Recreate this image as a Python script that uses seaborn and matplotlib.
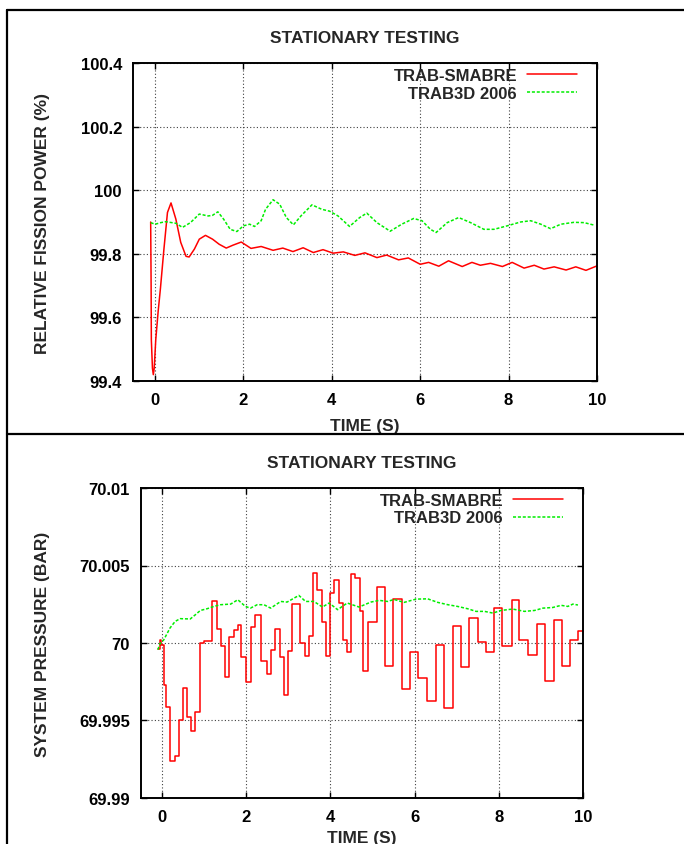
import matplotlib
matplotlib.use("Agg")
import matplotlib.pyplot as plt
from matplotlib.lines import Line2D
import seaborn as sns
import pandas as pd

# ---------------- data ----------------
title = "STATIONARY TESTING"
series_names = ["TRAB-SMABRE", "TRAB3D 2006"]
xlabel = "TIME (S)"
ylabel_top = "RELATIVE FISSION POWER (%)"
ylabel_bot = "SYSTEM PRESSURE (BAR)"

x_ticks = [0, 2, 4, 6, 8, 10]
x_ticklabels = ["0", "2", "4", "6", "8", "10"]
top_yticks = [99.4, 99.6, 99.8, 100.0, 100.2, 100.4]
top_yticklabels = ["99.4", "99.6", "99.8", "100", "100.2", "100.4"]
bot_yticks = [69.99, 69.995, 70.0, 70.005, 70.01]
bot_yticklabels = ["69.99", "69.995", "70", "70.005", "70.01"]

# top panel: relative fission power
power_smabre_t = [-0.10, -0.09, -0.085, -0.06, -0.04, -0.02, 0.015, 0.07, 0.12, 0.20,
                  0.28, 0.36, 0.47, 0.58, 0.70, 0.77, 0.89, 1.00, 1.14, 1.30,
                  1.45, 1.61, 1.76, 1.95, 2.17, 2.40, 2.67, 2.89, 3.12, 3.35,
                  3.58, 3.80, 4.03, 4.26, 4.52, 4.75, 5.02, 5.24, 5.51, 5.73,
                  6.00, 6.19, 6.42, 6.64, 6.95, 7.17, 7.36, 7.59, 7.86, 8.08,
                  8.35, 8.58, 8.80, 9.03, 9.30, 9.52, 9.75, 10.0]
power_smabre = [99.90, 99.70, 99.53, 99.44, 99.42, 99.44, 99.53, 99.62, 99.69, 99.815,
                99.93, 99.96, 99.909, 99.836, 99.792, 99.790, 99.815, 99.846, 99.858, 99.846,
                99.830, 99.818, 99.827, 99.837, 99.817, 99.823, 99.811, 99.818, 99.807, 99.819,
                99.804, 99.813, 99.802, 99.806, 99.795, 99.803, 99.788, 99.796, 99.781, 99.787,
                99.767, 99.773, 99.761, 99.778, 99.760, 99.773, 99.764, 99.770, 99.760, 99.773,
                99.755, 99.764, 99.752, 99.759, 99.749, 99.759, 99.748, 99.762]

power_trab3d_t = [-0.10, 0.0, 0.13, 0.24, 0.47, 0.62, 0.80, 1.0, 1.2, 1.3,
                  1.42, 1.55, 1.7, 1.85, 2.0, 2.14, 2.25, 2.4, 2.5, 2.67,
                  2.82, 2.97, 3.13, 3.3, 3.55, 3.77, 3.95, 4.14, 4.4, 4.63,
                  4.79, 5.02, 5.32, 5.58, 5.85, 6.04, 6.23, 6.36, 6.61, 6.87,
                  7.14, 7.44, 7.67, 7.97, 8.27, 8.5, 8.73, 8.95, 9.18, 9.48,
                  9.71, 9.94]
power_trab3d = [99.898, 99.893, 99.898, 99.901, 99.896, 99.883, 99.898, 99.925, 99.919, 99.921,
                99.932, 99.909, 99.877, 99.870, 99.888, 99.893, 99.886, 99.904, 99.940, 99.970,
                99.956, 99.914, 99.891, 99.919, 99.954, 99.940, 99.934, 99.919, 99.886, 99.914,
                99.928, 99.898, 99.871, 99.893, 99.911, 99.904, 99.877, 99.867, 99.898, 99.914,
                99.898, 99.877, 99.877, 99.888, 99.900, 99.904, 99.893, 99.879, 99.893, 99.899,
                99.898, 99.890]

# bottom panel: system pressure (SMABRE is a stepwise signal)
pres_smabre_t = [-0.10, -0.06, -0.02, 0.04, 0.09, 0.195, 0.30, 0.41, 0.49, 0.595,
                 0.69, 0.79, 0.90, 1.005, 1.09, 1.185, 1.305, 1.405, 1.495, 1.60,
                 1.705, 1.795, 1.885, 2.00, 2.105, 2.21, 2.36, 2.50, 2.60, 2.685,
                 2.80, 2.895, 3.00, 3.095, 3.27, 3.385, 3.49, 3.575, 3.69, 3.79,
                 3.885, 3.995, 4.085, 4.205, 4.30, 4.40, 4.495, 4.595, 4.70, 4.78,
                 4.90, 5.10, 5.305, 5.49, 5.69, 5.90, 6.09, 6.29, 6.50, 6.70,
                 6.90, 7.10, 7.30, 7.50, 7.695, 7.89, 8.075, 8.305, 8.49, 8.705,
                 8.91, 9.095, 9.30, 9.495, 9.70, 9.89, 10.0]
pres_smabre = [69.9996, 70.0002, 69.9999, 69.9973, 69.9959, 69.99237, 69.99274, 69.9950, 69.9971, 69.99521,
               69.99430, 69.99553, 70.0000, 70.00015, 70.0001, 70.0027, 70.0009, 69.99983, 69.9978, 70.0004,
               70.00086, 70.00116, 69.99912, 69.99751, 70.00105, 70.00182, 69.99886, 69.9980, 69.99955, 70.00092,
               69.99908, 69.99667, 69.9995, 70.00251, 70.0000, 69.99918, 70.00047, 70.00451, 70.00344, 70.00133,
               69.99914, 70.0032, 70.00406, 70.00258, 70.00021, 69.99944, 70.00445, 70.00419, 70.00204, 69.99818,
               70.00137, 70.00363, 69.9985, 70.00283, 69.99706, 69.99944, 69.99774, 69.99624, 69.99989, 69.9958,
               70.0011, 69.99843, 70.00161, 70.00008, 69.99942, 70.00228, 69.99979, 70.00276, 70.00019, 69.99922,
               70.00124, 69.99757, 70.00148, 69.99852, 70.00019, 70.00075, 70.00075]

pres_trab3d_t = [-0.10, -0.04, 0.04, 0.19, 0.31, 0.43, 0.67, 0.79, 0.91, 1.07,
                 1.23, 1.39, 1.63, 1.80, 1.98, 2.10, 2.26, 2.42, 2.58, 2.82,
                 2.97, 3.25, 3.41, 3.61, 3.81, 3.97, 4.17, 4.40, 4.68, 4.96,
                 5.16, 5.36, 5.51, 5.75, 6.03, 6.31, 6.55, 6.79, 7.02, 7.26,
                 7.46, 7.66, 7.86, 8.05, 8.33, 8.61, 8.85, 9.05, 9.28, 9.48,
                 9.64, 9.76, 9.88]
pres_trab3d = [69.99957, 70.0, 70.0002, 70.00097, 70.00139, 70.00157, 70.00155, 70.00182, 70.0021, 70.00221,
               70.00236, 70.00247, 70.00251, 70.00279, 70.00236, 70.00225, 70.00247, 70.00247, 70.00225, 70.00268,
               70.00264, 70.00307, 70.00268, 70.00268, 70.00232, 70.00258, 70.00215, 70.00258, 70.00232, 70.00264,
               70.00275, 70.00268, 70.00281, 70.00262, 70.00283, 70.00285, 70.00262, 70.00247, 70.00236, 70.00221,
               70.00204, 70.00204, 70.00193, 70.0021, 70.00219, 70.00204, 70.0021, 70.00225, 70.00229, 70.00243,
               70.00236, 70.00251, 70.00245]

# ---------------- style ----------------
sns.set_theme(style="white")
plt.rcParams["font.family"] = ["Liberation Sans", "DejaVu Sans"]
plt.rcParams["font.size"] = 12
plt.rcParams["font.weight"] = "bold"

RED = "#ff0000"
GREEN = "#00ee00"

W, H = 684, 845
fig = plt.figure(figsize=(W / 100, H / 100), dpi=100)
fig.patch.set_facecolor("white")


def axes_px(left, top, right, bottom):
    return fig.add_axes([left / W, 1 - bottom / H, (right - left) / W, (bottom - top) / H])


ax1 = axes_px(133, 64, 597, 382)
ax2 = axes_px(141, 489, 583, 799)


def style_axes(ax, yticks, yticklabels, ylim, ylabel, label_x, xlabelpad):
    ax.set_xlim(-0.5, 10)
    ax.set_ylim(*ylim)
    ax.set_xticks(x_ticks)
    ax.set_xticklabels(x_ticklabels, fontweight="bold", fontsize=12)
    ax.set_yticks(yticks)
    ax.set_yticklabels(yticklabels, fontweight="bold", fontsize=12)
    ax.grid(True, color="0.25", linestyle=(0, (1, 2)), linewidth=0.8)
    ax.tick_params(direction="in", length=4, width=1, top=True, right=True,
                   bottom=True, left=True, pad=8, colors="black")
    for s in ax.spines.values():
        s.set_color("black")
        s.set_linewidth(1.4)
    ax.set_title(title, fontsize=12.5, fontweight="bold", pad=15)
    ax.set_xlabel(xlabel, fontsize=12.5, fontweight="bold", labelpad=xlabelpad)
    ax.set_ylabel(ylabel, fontsize=12.5, fontweight="bold")
    ax.yaxis.set_label_coords(label_x, 0.5)


df1a = pd.DataFrame({"t": power_smabre_t, "v": power_smabre})
df1b = pd.DataFrame({"t": power_trab3d_t, "v": power_trab3d})
sns.lineplot(data=df1a, x="t", y="v", ax=ax1, color=RED, linewidth=1.1,
             estimator=None, sort=False, label=series_names[0])
sns.lineplot(data=df1b, x="t", y="v", ax=ax1, color=GREEN, linewidth=1.1,
             linestyle=(0, (2.0, 1.2)), estimator=None, sort=False, label=series_names[1])
style_axes(ax1, top_yticks, top_yticklabels, (99.4, 100.4), ylabel_top, -0.179, 8)

df2a = pd.DataFrame({"t": pres_smabre_t, "v": pres_smabre})
df2b = pd.DataFrame({"t": pres_trab3d_t, "v": pres_trab3d})
sns.lineplot(data=df2a, x="t", y="v", ax=ax2, color=RED, linewidth=1.1,
             drawstyle="steps-post", estimator=None, sort=False, label=series_names[0])
sns.lineplot(data=df2b, x="t", y="v", ax=ax2, color=GREEN, linewidth=1.1,
             linestyle=(0, (2.0, 1.2)), estimator=None, sort=False, label=series_names[1])
style_axes(ax2, bot_yticks, bot_yticklabels, (69.99, 70.01), ylabel_bot, -0.206, 4)

for ax, anchor in ((ax1, (0.957, 0.984)), (ax2, (0.955, 0.984))):
    leg = ax.legend(loc="upper right", bbox_to_anchor=anchor, frameon=False,
                    markerfirst=False, handlelength=3.0, handletextpad=0.6,
                    labelspacing=0.15, borderpad=0, borderaxespad=0,
                    prop={"size": 12, "weight": "bold"})

# outer panel frames
lw = 1.6
fx = 7 / W
fig.add_artist(Line2D([fx, fx], [0, 1 - 11 / H], transform=fig.transFigure, color="black", lw=lw))
fig.add_artist(Line2D([fx, 1], [1 - 11 / H, 1 - 11 / H], transform=fig.transFigure, color="black", lw=lw))
fig.add_artist(Line2D([fx, 1], [1 - 435 / H, 1 - 435 / H], transform=fig.transFigure, color="black", lw=lw))

fig.savefig("out.png", dpi=100, facecolor="white")
